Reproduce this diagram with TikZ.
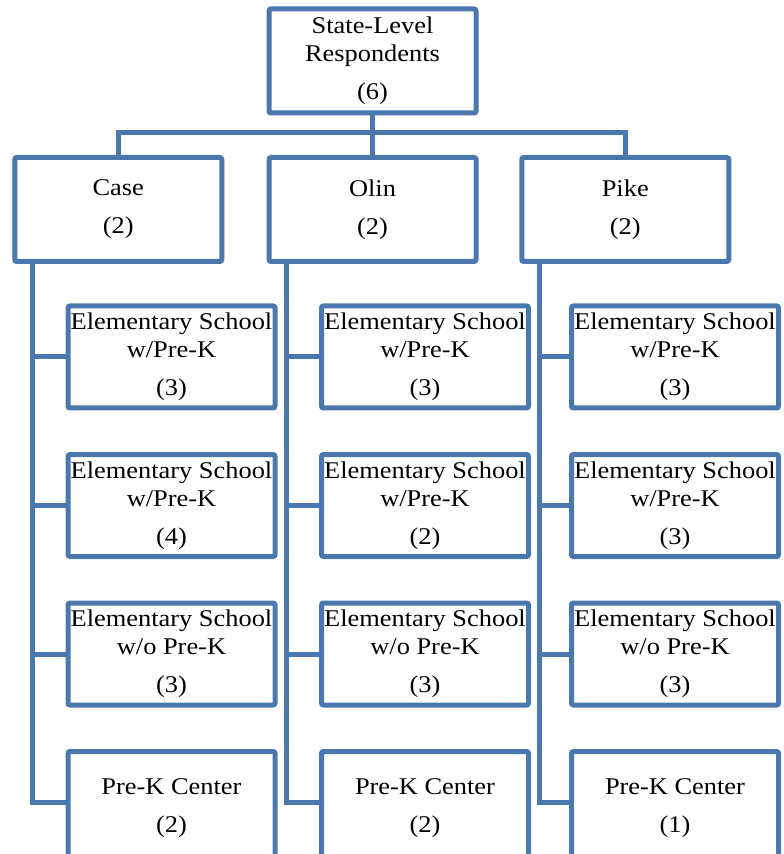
\documentclass[tikz,border=0pt]{standalone}
\usepackage{fontspec}
\setmainfont{Liberation Serif}[FakeStretch=1.1]
\usepackage{tikz}
\usetikzlibrary{positioning}
\definecolor{orgblue}{RGB}{74,119,173}

\begin{document}
\begin{tikzpicture}[x=0.5pt, y=-0.5pt]
\tikzstyle{every node}=[draw=orgblue, line width=2.5pt, rounded corners=1pt, inner sep=0pt, align=center, font=\fontsize{12}{14}\selectfont];
\tikzstyle{unit}=[minimum width=103.5pt, minimum height=52pt];
\tikzstyle{site}=[minimum width=103.5pt, minimum height=51pt];
\tikzstyle{last}=[minimum width=103.5pt, minimum height=57pt];
\tikzstyle{link}=[draw=orgblue, line width=2.5pt];
\useasboundingbox (0,0) rectangle (783,854);
\clip (0,0) rectangle (783,854);
% state level
\node[unit] (state) at (372.5,61) {State-Level\\Respondents\\[5pt](6)};
% districts
\node[unit] (case) at (118.25,209.5) {Case\\[5pt](2)};
\node[unit] (olin) at (372.5,209.5) {Olin\\[5pt](2)};
\node[unit] (pike) at (625.25,209.5) {Pike\\[5pt](2)};
% schools in Case
\node[site] (caseA) at (171.5,357) {Elementary School\\w/Pre-K\\[5pt](3)};
\node[site] (caseB) at (171.5,505.5) {Elementary School\\w/Pre-K\\[5pt](4)};
\node[site] (caseC) at (171.5,654) {Elementary School\\w/o Pre-K\\[5pt](3)};
\node[last] (caseD) at (171.5,808.5) {Pre-K Center\\[5pt](2)};
% schools in Olin
\node[site] (olinA) at (425,357) {Elementary School\\w/Pre-K\\[5pt](3)};
\node[site] (olinB) at (425,505.5) {Elementary School\\w/Pre-K\\[5pt](2)};
\node[site] (olinC) at (425,654) {Elementary School\\w/o Pre-K\\[5pt](3)};
\node[last] (olinD) at (425,808.5) {Pre-K Center\\[5pt](2)};
% schools in Pike
\node[site] (pikeA) at (675,357) {Elementary School\\w/Pre-K\\[5pt](3)};
\node[site] (pikeB) at (675,505.5) {Elementary School\\w/Pre-K\\[5pt](3)};
\node[site] (pikeC) at (675,654) {Elementary School\\w/o Pre-K\\[5pt](3)};
\node[last] (pikeD) at (675,808.5) {Pre-K Center\\[5pt](1)};
% top connectors
\draw[link] (state) -- (olin);
\draw[link] (case.north) -- ++(0,-22.5) -| (pike.north);
% school connectors
\draw[link] ([xshift=10pt]case.south west) |- (caseA.west);
\draw[link] ([xshift=10pt]case.south west) |- (caseB.west);
\draw[link] ([xshift=10pt]case.south west) |- (caseC.west);
\draw[link] ([xshift=10pt]case.south west) |- ([yshift=3pt]caseD.west);
\draw[link] ([xshift=10pt]olin.south west) |- (olinA.west);
\draw[link] ([xshift=10pt]olin.south west) |- (olinB.west);
\draw[link] ([xshift=10pt]olin.south west) |- (olinC.west);
\draw[link] ([xshift=10pt]olin.south west) |- ([yshift=3pt]olinD.west);
\draw[link] ([xshift=10pt]pike.south west) |- (pikeA.west);
\draw[link] ([xshift=10pt]pike.south west) |- (pikeB.west);
\draw[link] ([xshift=10pt]pike.south west) |- (pikeC.west);
\draw[link] ([xshift=10pt]pike.south west) |- ([yshift=3pt]pikeD.west);
\end{tikzpicture}
\end{document}
